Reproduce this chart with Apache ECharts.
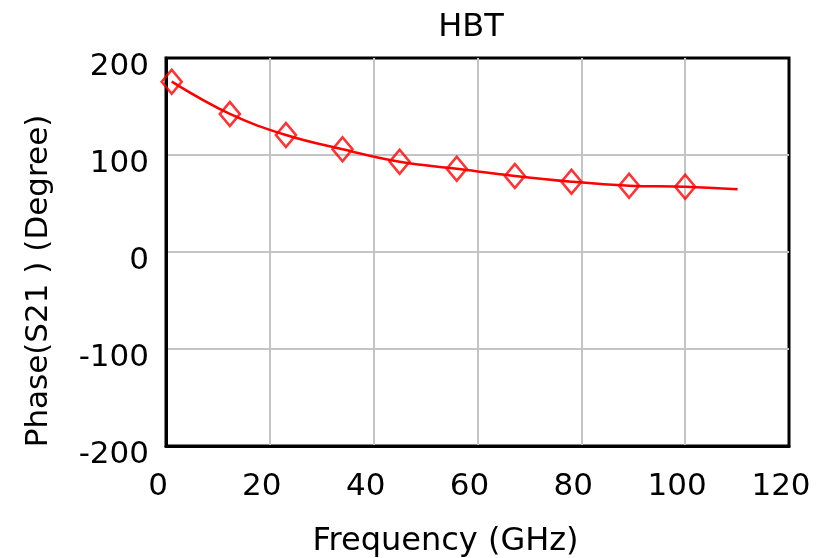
<!DOCTYPE html>
<html>
<head>
<meta charset="utf-8">
<script src="https://cdn.jsdelivr.net/npm/echarts@6/dist/echarts.min.js"></script>
<style>
html, body { margin: 0; padding: 0; background: #fff; }
#chart { width: 831px; height: 558px; }
</style>
</head>
<body>
<div id="chart"></div>
<script>
// sampled points (diamond markers)
var freq = [1.1, 12.3, 23.1, 34.0, 45.0, 56.0, 67.2, 78.1, 89.2, 100.0];
var phase = [175.6, 142.3, 120.6, 105.9, 93.1, 85.8, 78.4, 72.5, 68.4, 67.3];
// the fitted curve runs a bit past the last marker
var curveFreq = [1.1, 12.3, 23.1, 34.0, 45.0, 56.0, 67.2, 78.1, 89.2, 100.0, 110.1];
var curvePhase = [175.6, 142.3, 120.6, 105.9, 93.1, 85.8, 78.4, 72.5, 68.4, 67.3, 64.6];

var myChart = echarts.init(document.getElementById('chart'));

var markerData = [];
for (var i = 0; i < freq.length; i++) {
	markerData.push([freq[i], phase[i]]);
}
var curveData = [];
for (var j = 0; j < curveFreq.length; j++) {
	curveData.push([curveFreq[j], curvePhase[j]]);
}

var font = 'DejaVu Sans';

var option = {
	animation: false,
	backgroundColor: '#fff',
	title: {
		text: 'HBT',
		left: 466,
		top: 7,
		textAlign: 'center',
		textStyle: { fontFamily: font, fontSize: 32, fontWeight: 'normal', color: '#000' }
	},
	grid: {
		left: 166, right: 42, top: 58, bottom: 112,
		outerBoundsMode: 'none',
		containLabel: false,
		show: true, borderColor: '#000', borderWidth: 3
	},
	xAxis: {
		type: 'value',
		min: 0, max: 120, interval: 20,
		name: 'Frequency (GHz)',
		nameLocation: 'middle',
		nameGap: 80,
		nameTextStyle: { fontFamily: font, fontSize: 32, color: '#000', padding: [0, 64, 0, 0] },
		axisLine: { show: true, onZero: false, lineStyle: { color: '#000', width: 3 } },
		axisTick: { show: false },
		splitLine: { show: true, showMinLine: false, showMaxLine: false, lineStyle: { color: '#c4c4c4', width: 2 } },
		axisLabel: { fontFamily: font, fontSize: 31, color: '#000', margin: 25, padding: [0, 16, 0, 0] }
	},
	yAxis: {
		type: 'value',
		min: -200, max: 200, interval: 100,
		name: 'Phase(S21 ) (Degree)',
		nameLocation: 'middle',
		nameGap: 112,
		nameTextStyle: { fontFamily: font, fontSize: 31, color: '#000', padding: [0, 58, 0, 0] },
		axisLine: { show: true, onZero: false, lineStyle: { color: '#000', width: 3 } },
		axisTick: { show: false },
		splitLine: { show: true, showMinLine: false, showMaxLine: false, lineStyle: { color: '#c4c4c4', width: 2 } },
		axisLabel: { fontFamily: font, fontSize: 31, color: '#000', margin: 17, verticalAlign: 'top', lineHeight: 18 }
	},
	series: [
		{
			name: 'curve',
			type: 'line',
			data: curveData,
			smooth: 0.4,
			showSymbol: false,
			symbol: 'none',
			lineStyle: { color: '#ff0000', width: 2.5 },
			z: 3
		},
		{
			name: 'points',
			type: 'scatter',
			data: markerData,
			symbol: 'diamond',
			symbolSize: [20, 24],
			itemStyle: { color: 'rgba(0,0,0,0)', borderColor: '#ff0000', borderWidth: 2.6 },
			z: 4
		}
	]
};

myChart.setOption(option);
</script>
</body>
</html>
